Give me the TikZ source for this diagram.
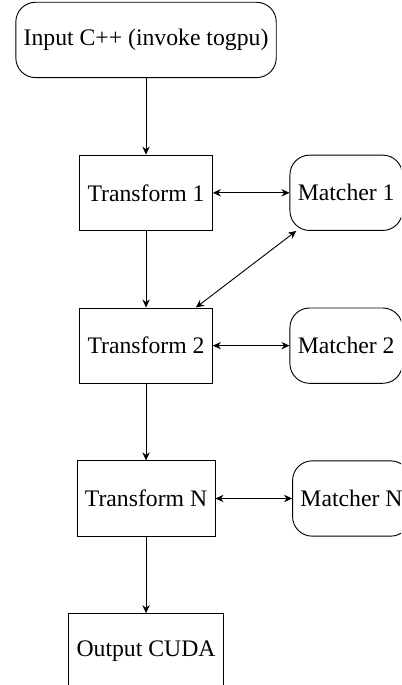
\documentclass[tikz,border=0pt]{standalone}
\usepackage{fontspec}
\setmainfont{Liberation Serif}[Scale=1.03]
\usetikzlibrary{positioning,arrows.meta}
\tikzstyle{box}=[rectangle, draw=black, minimum height=1.15cm, inner xsep=0.12cm, anchor=center]
\tikzstyle{rbox}=[box, rounded corners=0.3cm]
\tikzstyle{flow}=[-{Stealth[length=3.5pt,width=3.2pt]}]
\tikzstyle{link}=[{Stealth[length=3.5pt,width=3.2pt]}-{Stealth[length=3.5pt,width=3.2pt]}]

\begin{document}
\begin{tikzpicture}[node distance=1.17cm]
	\clip (-2.23,0.61) rectangle (3.894,-9.85);

	\node[rbox](input) at (0,0){Input C++ (invoke togpu)};
	\node[box, below=of input](trans1){Transform 1};
	\node[box, below=of trans1](trans2){Transform 2};
	\node[box, below=of trans2](transN){Transform N};
	\node[box, below=of transN](output){Output CUDA};

	\node[rbox, right=1.17cm of trans1](match1){Matcher 1};
	\node[rbox, right=1.17cm of trans2](match2){Matcher 2};
	\node[rbox, right=1.17cm of transN](matchN){Matcher N};

	\draw[flow] (input) -- (trans1);
	\draw[flow] (trans1) -- (trans2);
	\draw[flow] (trans2) -- (transN);
	\draw[flow] (transN) -- (output);

	\draw[link] (trans1) -- (match1);
	\draw[link] (trans2) -- (match2);
	\draw[link] (transN) -- (matchN);
	\draw[link] (match1) -- (trans2);
\end{tikzpicture}
\end{document}
